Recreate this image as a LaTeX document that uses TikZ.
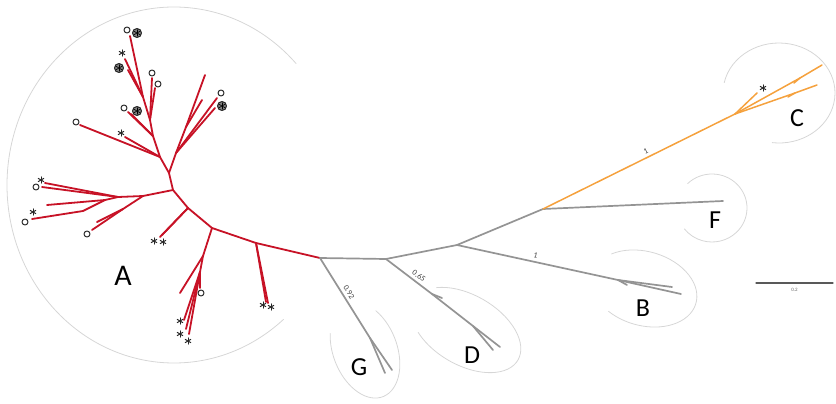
\documentclass[tikz,border=0pt]{standalone}
\usepackage{fontspec}
\setmainfont{Carlito}
\definecolor{cladered}{rgb}{0.78,0.07,0.15}
\definecolor{cladeorange}{rgb}{0.96,0.63,0.24}
\definecolor{branchgray}{rgb}{0.58,0.58,0.58}
\definecolor{hullgray}{rgb}{0.84,0.84,0.84}
\definecolor{markgray}{rgb}{0.50,0.50,0.50}
\tikzset{
  redbr/.style={line width=1.8pt,color=cladered},
  graybr/.style={line width=1.7pt,color=branchgray},
  orangebr/.style={line width=1.5pt,color=cladeorange},
  hull/.style={line width=0.8pt,color=hullgray},
  cladelabel/.style={font=\fontsize{26}{30}\selectfont,inner sep=0pt},
  supp/.style={font=\fontsize{8}{9}\selectfont,inner sep=0pt,text=black!75},
  astmark/.pic={\foreach \a in {90,30,-30} \draw[line width=1pt,black!85] (\a:3.2) -- (\a+180:3.2);},
  openmark/.pic={\draw[line width=1pt,black!85,fill=white] (0,0) circle (3);},
  fullmark/.pic={\draw[line width=1pt,black!85,fill=markgray] (0,0) circle (4.5);
    \foreach \a in {90,30,-30} \draw[line width=0.6pt,black] (\a:3.2) -- (\a+180:3.2);},
}
\begin{document}
\begin{tikzpicture}[line cap=round,line join=round,x=1pt,y=1pt]
\useasboundingbox (0,0) rectangle (836,-404);
\draw[hull] (174,-185) ++(43:167 and 178) arc[start angle=43,end angle=311,x radius=167,y radius=178];
\draw[hull] (779,-93) ++(168:56 and 50) arc[start angle=168,end angle=-97,x radius=56,y radius=50];
\draw[hull] (712,-208) ++(134:35 and 34) arc[start angle=134,end angle=-142,x radius=35,y radius=34];
\begin{scope}[shift={(644,-288.5)},rotate=-16]
\draw[hull] (139:54 and 37) arc[start angle=139,end angle=-121,x radius=54,y radius=37];
\end{scope}
\begin{scope}[shift={(466,-330)},rotate=-30]
\draw[hull] (141:60 and 35) arc[start angle=141,end angle=-132,x radius=60,y radius=35];
\end{scope}
\begin{scope}[shift={(365,-350)},rotate=-69]
\draw[hull] (131:50 and 32) arc[start angle=131,end angle=-124,x radius=50,y radius=32];
\end{scope}
\foreach \n/\x/\y in {r0/320/258,m1/256/243,m2/212/228,m3/188/208,a1/173/190,
  u0/169/173,u1/160/157,u2/153/136,u3/150/120,u4/143/97,utop/130/36,
  k1/176/153,k2/186/127,ktop/205/75,L0/143/196,L0b/123/209,L1/118/197,L2/105/200,L3/83/211,
  s2/203/256,s3/200/272,
  ta1/266/302,ta2/268/303,tb1/180/293,tb2/200/288,tb3/184/320,tb4/186/329,tb5/189/334,
  tc1/162/235,tc2/160/237,td1/80/125,td2/125/137,te1/128/112,te2/131/114,
  tf1/152/78,tf2/155/88,tg1/125/59,tg2/128/70,th1/217/98,th2/215/108,th3/202/100,
  ti1/92/230,ti2/97/222,tj1/45/183,tj2/42/187,tk1/47/205,tk2/32/219,
  g1/386/259,g2/457/245,g3/543/209,Gf/370/338,tG1/392/370,tG2/385/373,
  Ds/432/294,Df/473/326,tD1/500/347,tD2/493/350,tDs/442/298,
  Bf/618/280,tB1/681/294,tB2/672/287,tBs/627/285,tF/723/201,
  Cj/735/114,tC0/757/93,Cb1/800/78,tC1/822/65,tCs1/794/83,Cb2/795/93,tC2/817/85,tCs2/788/97,
  sb0/756/283,sb1/833/283}
  \coordinate (\n) at (\x,-\y);
\draw[redbr] (r0) -- (m1) -- (m2) -- (m3) -- (a1) -- (u0) -- (u1) -- (u2) -- (u3) -- (u4) -- (utop);
\draw[redbr] (m2) -- (s2) -- (s3) -- (tb4);
\draw[redbr] (u0) -- (k1) -- (k2) -- (ktop);
\draw[redbr] (a1) -- (L0) -- (L0b) -- (ti1);
\draw[redbr] (L0) -- (L1) -- (L2) -- (L3) -- (tk2);
\foreach \a/\b in {m1/ta1,m1/ta2,s2/tb1,s3/tb2,s3/tb3,s3/tb5,m3/tc1,m3/tc2,u1/td1,u1/td2,
  u2/te1,u2/te2,u3/tf1,u3/tf2,u4/tg1,u4/tg2,k1/th1,k1/th2,k2/th3,L0b/ti2,L1/tj1,L1/tj2,L2/tk1}
  \draw[redbr] (\a) -- (\b);
\draw[graybr] (r0) -- (g1) -- (g2) -- (g3) -- (tF);
\draw[graybr] (r0) -- (Gf) node[supp,pos=0.47,sloped,above=3pt] (s092) {0.92} -- (tG1);
\draw[graybr] (Gf) -- (tG2);
\draw[graybr] (g1) -- (Ds) node[supp,pos=0.63,sloped,above=3pt] (s065) {0.65} -- (Df) -- (tD1);
\draw[graybr] (Ds) -- (tDs);
\draw[graybr] (Df) -- (tD2);
\draw[graybr] (g2) -- (Bf) node[supp,pos=0.48,sloped,above=3pt] (sB) {1} -- (tB1);
\draw[graybr] (Bf) -- (tB2);
\draw[graybr] (Bf) -- (tBs);
\draw[orangebr] (g3) -- (Cj) node[supp,pos=0.55,sloped,above=3pt] (sC) {1} -- (Cb1) -- (tC1);
\draw[orangebr] (Cj) -- (tC0);
\draw[orangebr] (Cj) -- (Cb2) -- (tC2);
\draw[orangebr] (Cb1) -- (tCs1);
\draw[orangebr] (Cb2) -- (tCs2);
\foreach \x/\y in {76/122,124/108,152/73,158/84,127/30,221/93,36/187,25/222,87/234,201/293}
  \pic at (\x,-\y) {openmark};
\foreach \x/\y in {137/111,119/68,137/33,222/106}
  \pic at (\x,-\y) {fullmark};
\foreach \x/\y in {121/133,122/53,41/180,33/212,154/241,163/242,180/321,180/334,188/341,263/305,271/307,763/88}
  \pic at (\x,-\y) {astmark};
\node[cladelabel,font=\fontsize{30}{34}\selectfont] (labA) at (123,-276) {A};
\node[cladelabel] (labB) at (643,-308) {B};
\node[cladelabel] (labC) at (797,-118) {C};
\node[cladelabel] (labD) at (472,-355) {D};
\node[cladelabel] (labF) at (715,-220) {F};
\node[cladelabel] (labG) at (359,-367) {G};
\draw[line width=1.2pt,black!65] (sb0) -- (sb1) node[midway,below=5pt,inner sep=0pt,font=\fontsize{5}{6}\selectfont,text=black!60] (sbl) {0.2};
\end{tikzpicture}
\end{document}
